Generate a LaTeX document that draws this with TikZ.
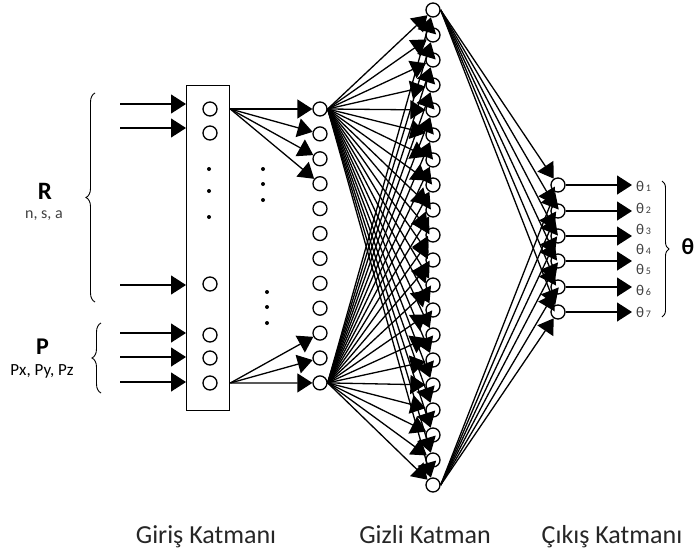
\documentclass[tikz,border=0pt]{standalone}
\usepackage{fontspec}
\setmainfont{Carlito}
\usetikzlibrary{arrows.meta,decorations.pathreplacing}
\begin{document}
\begin{tikzpicture}[x=1pt,y=-1pt,
  neuron/.style={circle,draw,line width=1.3pt,minimum size=14pt,inner sep=0pt,fill=white},
  conn/.style={line width=1.3pt,-{Triangle[length=15pt,width=19pt]}},
  dotmark/.style={circle,fill=black,inner sep=0pt,minimum size=4pt},
  bracestyle/.style={line width=0.9pt,decoration={brace,amplitude=9pt},decorate},
  lbl/.style={anchor=base,inner sep=0pt,font=\fontsize{26}{26}\selectfont,text=black!85},
  thlbl/.style={anchor=west,inner sep=0pt,text=black!75,font=\fontsize{15}{15}\selectfont}]
\useasboundingbox (0,0) rectangle (694,554);
% input box
\node[draw,line width=1.3pt,minimum width=43pt,minimum height=325pt,inner sep=0pt,anchor=north west] (box) at (186,85) {};
% input neurons
\foreach \i/\y in {1/109,2/133,3/284,4/335,5/358,6/383}
  \node[neuron] (in\i) at (210,\y) {};
\foreach \i/\y in {1/169,2/191,3/217}
  \node[dotmark] (ind\i) at (209,\y) {};
% input arrows
\foreach \i/\y in {1/104,2/128,3/285,4/333,5/357,6/382}{
  \coordinate (ia\i) at (120,\y);
  \draw[conn] (ia\i) -- (ia\i -| box.west);
}
% second column
\foreach \k in {1,...,12}
  \node[neuron] (c\k) at (320,{109+24.9*(\k-1)}) {};
\foreach \i/\y in {1/169,2/184,3/200}
  \node[dotmark] (da\i) at (263,\y) {};
\foreach \i/\y in {1/292,2/307,3/323}
  \node[dotmark] (db\i) at (267,\y) {};
\coordinate (bt) at (in1 -| box.east);
\coordinate (bb) at (in6 -| box.east);
\foreach \k in {1,...,4} \draw[conn] (bt) -- (c\k);
\foreach \k in {10,11,12} \draw[conn] (bb) -- (c\k);
% hidden column
\foreach \k in {1,...,20}
  \node[neuron] (h\k) at (433,{10+25*(\k-1)}) {};
\foreach \k in {1,...,20}{
  \draw[conn] (c1.east) -- (h\k);
  \draw[conn] (c12.east) -- (h\k);
}
% output column
\foreach \k/\y in {1/185,2/211,3/236,4/261,5/287,6/312}
  \node[neuron] (o\k) at (558,\y) {};
\foreach \k in {1,...,6}{
  \draw[conn] (h1.east) -- (o\k);
  \draw[conn] (h20.east) -- (o\k);
}
\foreach \k in {1,...,6}{
  \coordinate (oa\k) at (632,0 |- o\k);
  \draw[conn] (o\k) -- (oa\k);
}
% theta labels
\foreach \k/\y in {1/186,2/208,3/229,4/249,5/269,6/290,7/312}
  \node[thlbl] (t\k) at (636,\y) {θ{\fontsize{10}{10}\selectfont\,\k}};
\coordinate (tb1) at (662,181);
\coordinate (tb2) at (662,317);
\draw[bracestyle,decoration={amplitude=7pt}] (tb1) -- (tb2);
\node[font=\bfseries\fontsize{23}{23}\selectfont] (theta) at (688,247) {θ};
% R brace
\coordinate (rb1) at (95,302);
\coordinate (rb2) at (95,93);
\draw[bracestyle] (rb1) -- (rb2);
\node[font=\bfseries\fontsize{25}{25}\selectfont] (R) at (45,191) {R};
\node[font=\fontsize{16}{16}\selectfont,text=black!75] (nsa) at (44,216) {n, s, a};
% P brace
\coordinate (pb1) at (101,393);
\coordinate (pb2) at (101,323);
\draw[bracestyle] (pb1) -- (pb2);
\node[font=\bfseries\fontsize{24}{24}\selectfont] (P) at (42.5,347) {P};
\node[font=\fontsize{17}{17}\selectfont] (pxyz) at (42,371) {Px, Py, Pz};
% layer labels
\node[lbl] (l1) at (206,543) {Giriş Katmanı};
\node[lbl] (l2) at (425,543) {Gizli Katman};
\node[lbl] (l3) at (612,543) {Çıkış Katmanı};
\end{tikzpicture}
\end{document}
